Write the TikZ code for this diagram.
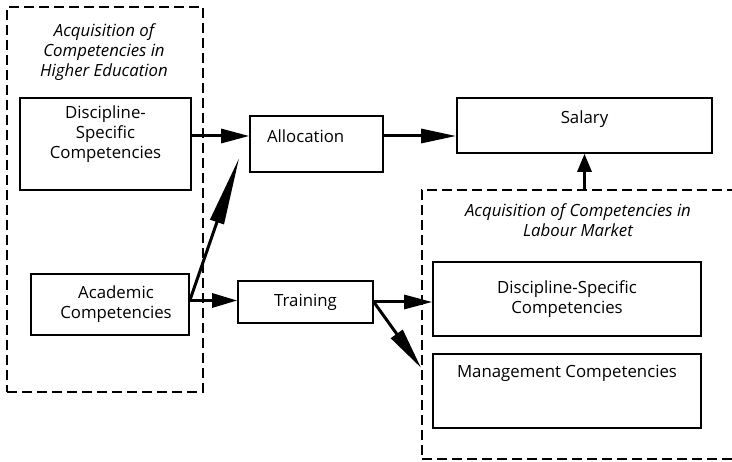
\documentclass[tikz,border=0pt]{standalone}
\usepackage{fontspec}
\setmainfont{Open Sans}
\usepackage{tikz}
\usetikzlibrary{arrows.meta}
\usetikzlibrary{calc}
\usetikzlibrary{positioning}
\newcommand{\diagfont}{\fontsize{16.8}{20}\selectfont}
\tikzset{
    mybox/.style = {rectangle, draw=black, line width=1.6pt, align=center, inner sep=0pt},
    mygroup/.style = {rectangle, draw=black, line width=1.6pt, dash pattern=on 10pt off 5pt, inner sep=0pt},
    mytitle/.style = {align=center, font=\diagfont\itshape},
    myarrow/.style = {line width=3pt, -{Triangle[length=#1,width=14pt]}},
    myarrow/.default = 28pt,
}

\begin{document}
\begin{tikzpicture}[
	x=1pt, y=-1pt,
	font=\diagfont
]
\useasboundingbox (0,0) rectangle (732,462);
% groups
\node[mygroup, minimum width=196, minimum height=385] at (105,199.5) (he) {};
\node[mygroup, minimum width=323, minimum height=269] at (583.5,324.5) (lm) {};
\node[mytitle] at (104,52) (hetitle) {Acquisition of\\Competencies in\\Higher Education};
\node[mytitle] at (578,220) (lmtitle) {Acquisition of Competencies in\\Labour Market};
%
\node[mybox, minimum width=171, minimum height=92,
      label={[align=center, yshift=10pt]center:Discipline-\\Specific\\Competencies}] at (105.5,144) (dshe) {};
\node[mybox, minimum width=158, minimum height=61,
      label={[align=center, xshift=6pt]center:Academic\\Competencies}] at (110,304.5) (acad) {};
\node[mybox, minimum width=133, minimum height=56, text depth=16pt,
      text width=99pt, align=left] at (316.5,144) (alloc) {Allocation};
\node[mybox, minimum width=135, minimum height=42] at (305.5,302) (train) {Training};
\node[mybox, minimum width=255, minimum height=55, text depth=16pt] at (584.5,125.5) (sal) {Salary};
\node[mybox, minimum width=268, minimum height=74] at (567,299) (dslm) {Discipline-Specific\\Competencies};
\node[mybox, minimum width=268, minimum height=74, text depth=40pt] at (567,391) (mgmt) {Management Competencies};
%
\coordinate (allocin) at ($(alloc.south west)+(-10,-15)$);
\coordinate (mgmtin) at ($(lm.west |- mgmt.west)+(0,-23)$);
%
\draw[myarrow] ([yshift=8pt]dshe.east) -- ([yshift=8pt]alloc.west);
\draw[myarrow=35pt] ([yshift=8pt]alloc.east) -- ([yshift=8pt]alloc.east -| sal.west);
\draw[myarrow=25pt] ([yshift=4pt]acad.east) -- ([yshift=4pt]acad.east -| train.west);
\draw[myarrow=68pt] ([yshift=4pt]acad.east) -- (allocin);
%
\draw[myarrow] (train.east) -- (train.east -| dslm.west);
\draw[myarrow=42pt] (train.east) -- (mgmtin);
\draw[myarrow=18pt] (lm.north -| sal.south) -- (sal.south);
\end{tikzpicture}
\end{document}
